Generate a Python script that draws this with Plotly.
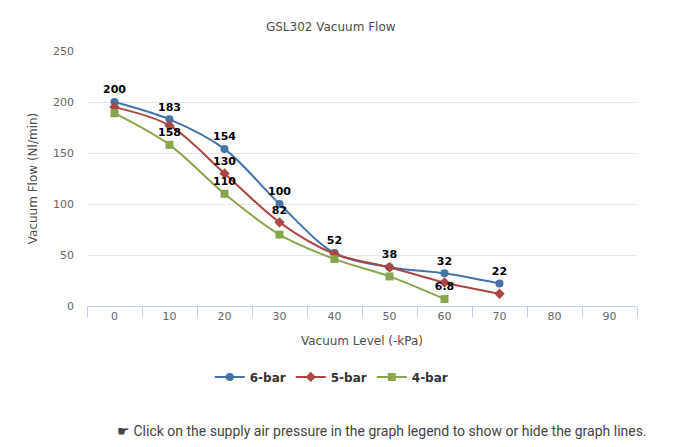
import plotly.graph_objects as go

vacuum_levels = [0, 10, 20, 30, 40, 50, 60, 70]
x_ticks = [0, 10, 20, 30, 40, 50, 60, 70, 80, 90]

flow_6bar = [200, 183, 154, 100, 52, 38, 32, 22]
flow_5bar = [195, 177, 130, 82, 51, 38, 23, 12]
flow_4bar = [189, 158, 110, 70, 46, 29, 6.8]

# which data labels are visible (others hidden due to overlap in original)
show_6bar = [True, True, True, True, True, True, True, True]
show_5bar = [False, False, True, True, False, False, False, False]
show_4bar = [False, True, True, False, False, False, True]

series = [
    ("6-bar", flow_6bar, show_6bar, "#4572A7", "circle", 8),
    ("5-bar", flow_5bar, show_5bar, "#AA4643", "diamond", 8),
    ("4-bar", flow_4bar, show_4bar, "#89A54E", "square", 8),
]

fig = go.Figure()
for name, ys, show, color, sym, msize in series:
    xs = vacuum_levels[:len(ys)]
    texts = [("<b>%s</b>" % (f"{v:g}")) if s else "" for v, s in zip(ys, show)]
    fig.add_trace(go.Scatter(
        x=xs, y=ys, name=name, mode="lines+markers+text",
        line=dict(color=color, width=2, shape="spline", smoothing=0.9),
        marker=dict(symbol=sym, size=msize, color=color),
        text=texts, textposition="top center",
        textfont=dict(family="DejaVu Sans", size=11, color="#000000"),
        cliponaxis=False,
    ))

fig.update_layout(
    width=675, height=447,
    margin=dict(l=87, r=38, t=51, b=141),
    paper_bgcolor="white", plot_bgcolor="white",
    title=dict(text="GSL302 Vacuum Flow", x=0.49, xanchor="center", y=0.94, yanchor="middle",
               font=dict(family="DejaVu Sans", size=12, color="#4d4d4d")),
    font=dict(family="DejaVu Sans", color="#666666"),
    showlegend=True,
    legend=dict(orientation="h", x=0.445, xanchor="center", y=-0.278, yanchor="middle",
                font=dict(family="DejaVu Sans", size=12, color="#333333", weight="bold"),
                itemwidth=30, tracegroupgap=0),
    annotations=[dict(
        text="☛ Click on the supply air pressure in the graph legend to show or hide the graph lines.",
        xref="paper", yref="paper", x=1.022, xanchor="right", y=-0.49, yanchor="middle",
        showarrow=False, font=dict(family="Roboto", size=14, color="#444444"))],
)

fig.update_xaxes(
    range=[-5, 95], tickvals=x_ticks, ticktext=[str(t) for t in x_ticks],
    ticks="", showgrid=False, zeroline=False,
    showline=True, linecolor="#C0D0E0", linewidth=1,
    minor=dict(ticks="outside", tick0=-5, dtick=10, ticklen=10, tickcolor="#C0D0E0", showgrid=False),
    tickfont=dict(family="DejaVu Sans", size=11, color="#666666"),
    title=dict(text="Vacuum Level (-kPa)", font=dict(family="DejaVu Sans", size=12, color="#4d4d4d"), standoff=14),
)
fig.update_yaxes(
    range=[0, 250], tickvals=[0, 50, 100, 150, 200, 250],
    showgrid=True, gridcolor="#E6E6E6", zeroline=False, showline=False,
    ticks="", ticklabelstandoff=12,
    tickfont=dict(family="DejaVu Sans", size=11, color="#666666"),
    title=dict(text="Vacuum Flow (Nl/min)", font=dict(family="DejaVu Sans", size=12, color="#4d4d4d"), standoff=12),
)

fig.write_html("out.html")
